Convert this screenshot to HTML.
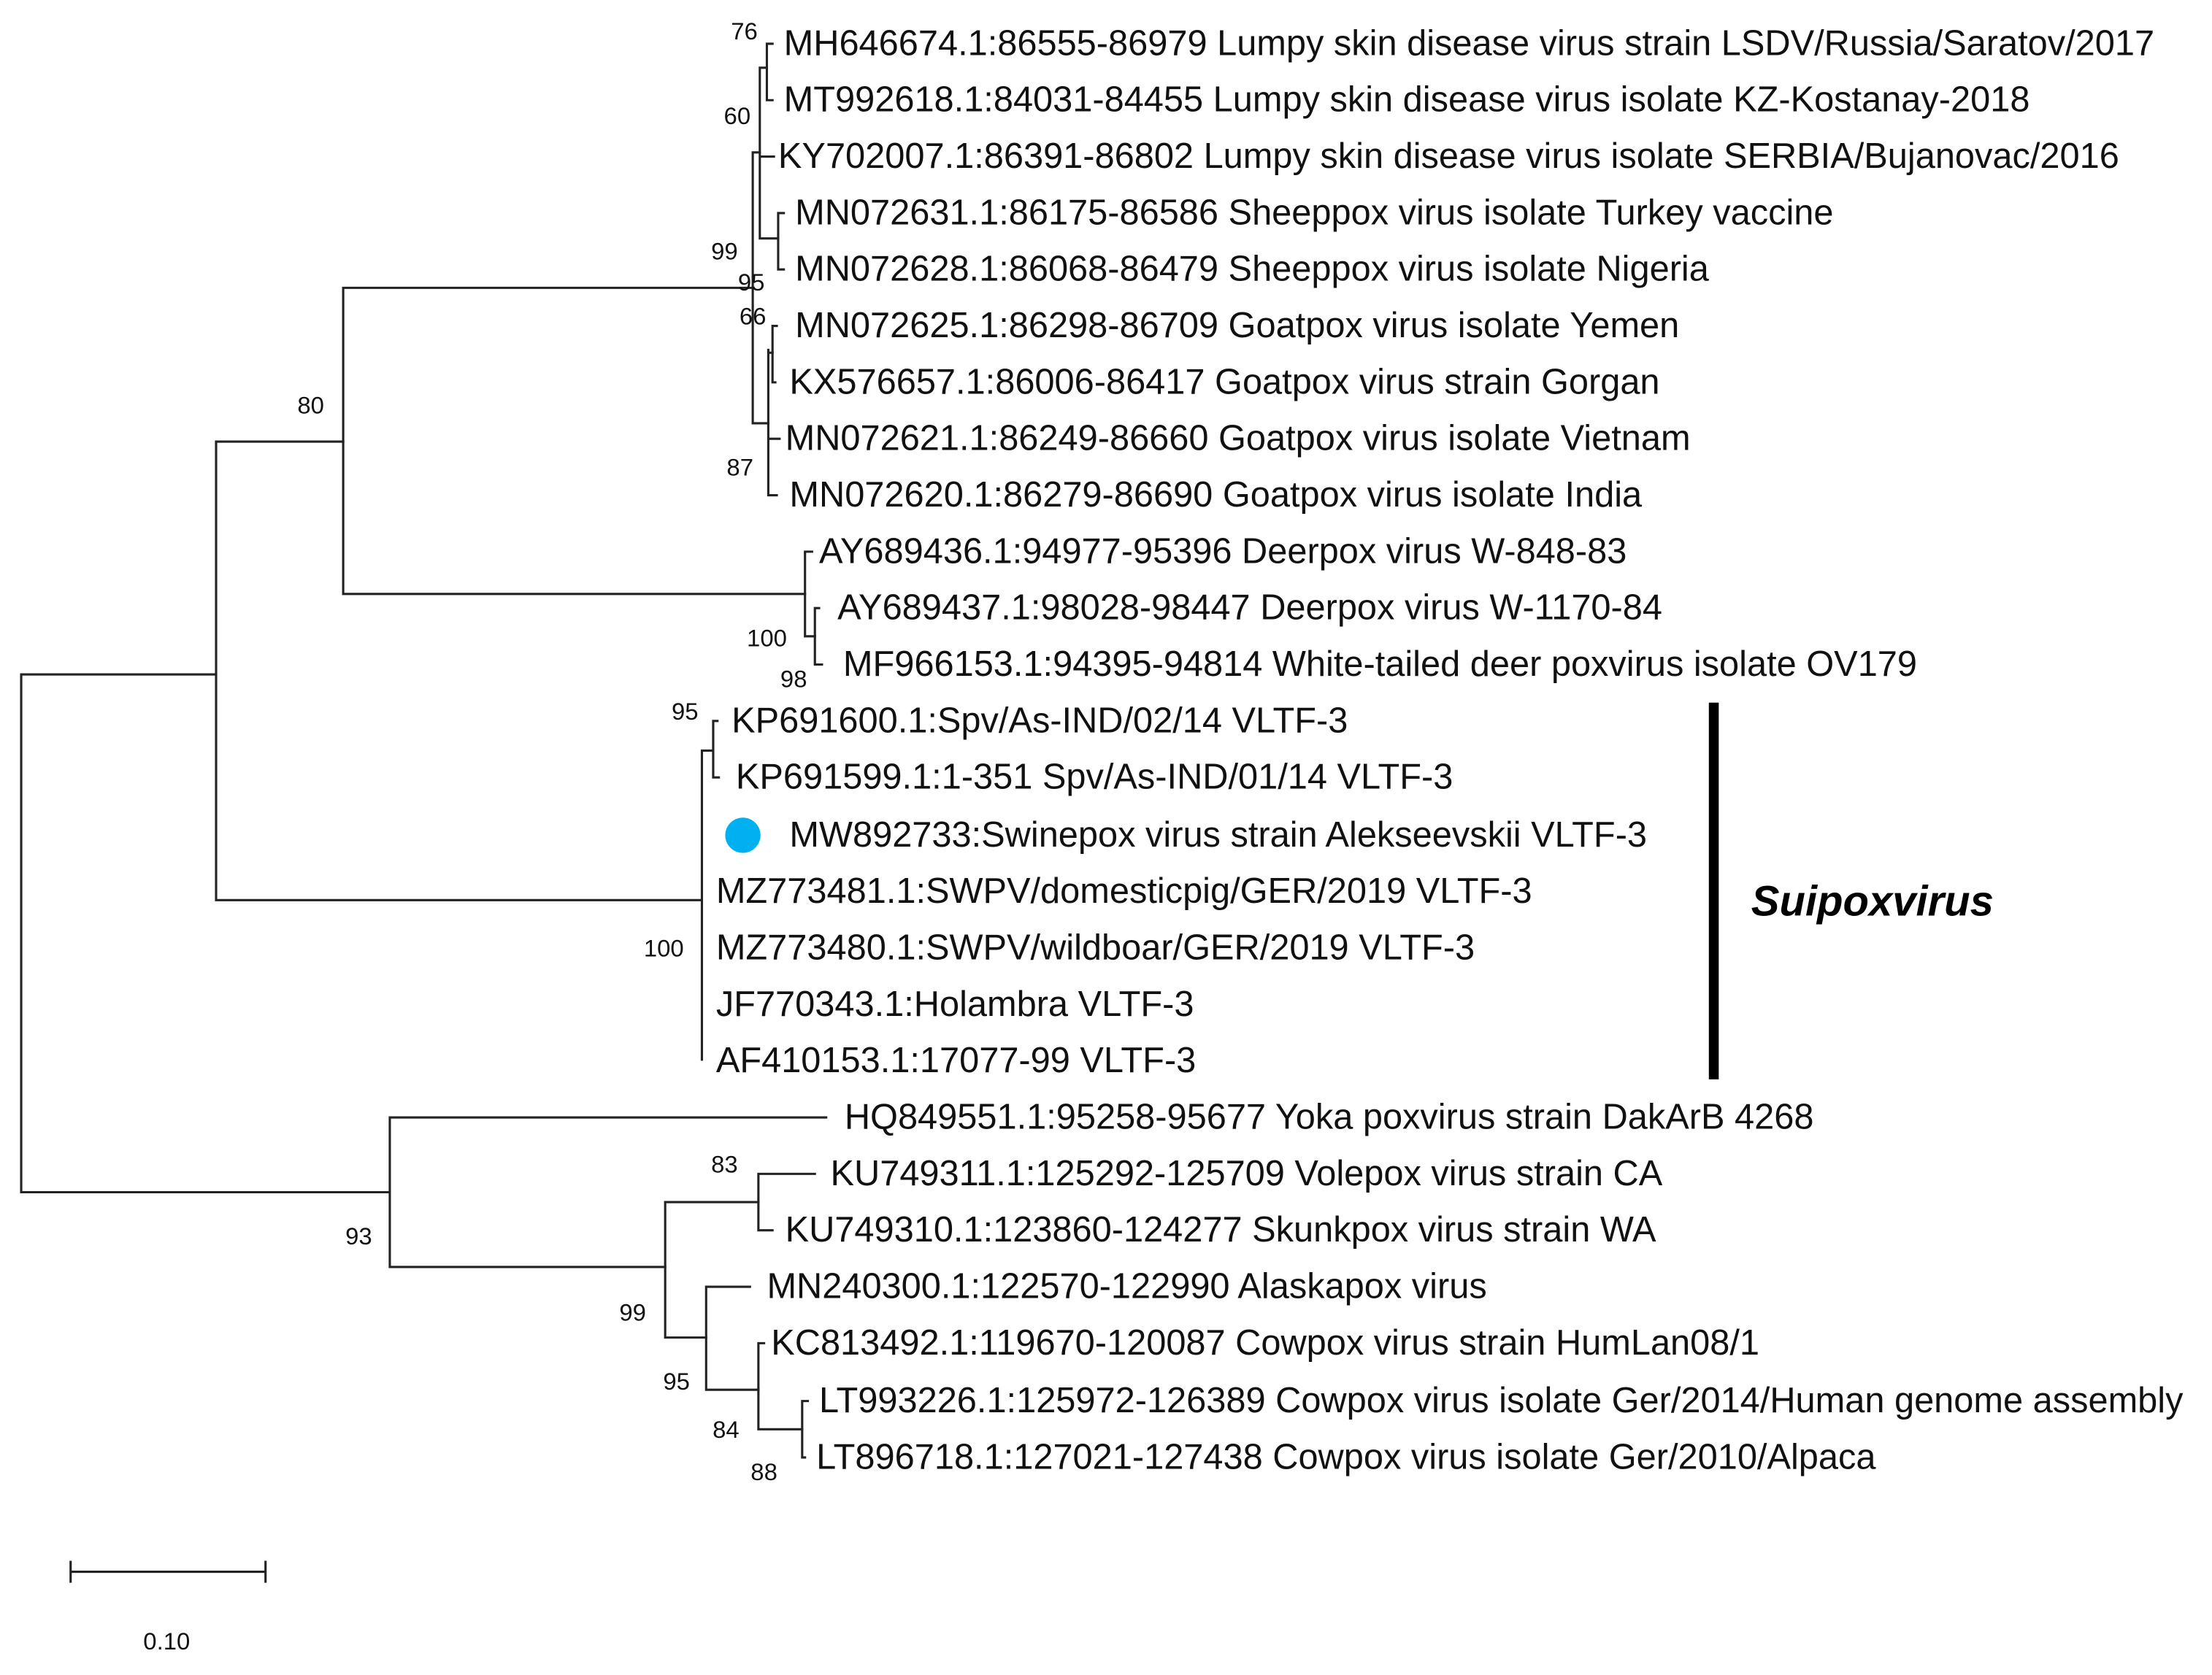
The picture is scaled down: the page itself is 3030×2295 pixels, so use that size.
<!DOCTYPE html>
<html><head><meta charset="utf-8"><style>
html,body{margin:0;padding:0;background:#fff;}
svg{display:block;}
text{font-family:"Liberation Sans",Arial,sans-serif;fill:#111;}
.t{font-size:25.2px;}
.s{font-size:17px;fill:#333;}
</style></head><body>
<svg width="3030" height="2295" viewBox="0 0 1560 1181.6" xmlns="http://www.w3.org/2000/svg">
<g transform="scale(0.996,0.9953)">
<g stroke="#222" stroke-width="1.6" fill="none" stroke-linecap="square">
<path d="M15 478V845M15 478H153M15 845H276"/>
<path d="M153 313V638M153 313H243M153 638H497"/>
<path d="M243 204V421M243 204H533M243 421H570"/>
<path d="M533 108V300M533 108H538M533 300H544"/>
<path d="M538 48V169M538 48H543M538 169H551M538 111H548"/>
<path d="M543 31V71M543 31H547M543 71H547"/>
<path d="M551 151V191M551 151H555M551 191H555"/>
<path d="M544 248V351M544 250H547M544 311H552M544 351H550"/>
<path d="M547 231V271M547 231H550M547 271H549"/>
<path d="M570 391V451M570 391H575M570 451H577"/>
<path d="M577 431V471M577 431H580M577 471H582"/>
<path d="M497 532V751M497 532H505"/>
<path d="M505 511V551M505 511H508M505 551H509"/>
<path d="M276 792V898M276 792H585M276 898H471"/>
<path d="M471 852V948M471 852H537M471 948H500"/>
<path d="M537 832V872M537 832H577M537 872H547"/>
<path d="M500 912V985M500 912H531M500 985H537"/>
<path d="M537 952V1013M537 952H541M537 1013H568"/>
<path d="M568 993V1033M568 993H572M568 1033H570"/>
<path d="M50 1114H188M50 1107V1121M188 1107V1121"/>
</g>
<rect x="1210" y="498" width="7" height="267" fill="#000"/>
<text x="1240" y="649" style="font-size:30px;font-weight:bold;font-style:italic;fill:#000">Suipoxvirus</text>
<circle cx="526" cy="592" r="12.5" fill="#00b0f0"/>
<g class="t">
<text x="555" y="39">MH646674.1:86555-86979 Lumpy skin disease virus strain LSDV/Russia/Saratov/2017</text>
<text x="555" y="79">MT992618.1:84031-84455 Lumpy skin disease virus isolate KZ-Kostanay-2018</text>
<text x="551" y="119">KY702007.1:86391-86802 Lumpy skin disease virus isolate SERBIA/Bujanovac/2016</text>
<text x="563" y="159">MN072631.1:86175-86586 Sheeppox virus isolate Turkey vaccine</text>
<text x="563" y="199">MN072628.1:86068-86479 Sheeppox virus isolate Nigeria</text>
<text x="563" y="239">MN072625.1:86298-86709 Goatpox virus isolate Yemen</text>
<text x="559" y="279">KX576657.1:86006-86417 Goatpox virus strain Gorgan</text>
<text x="556" y="319">MN072621.1:86249-86660 Goatpox virus isolate Vietnam</text>
<text x="559" y="359">MN072620.1:86279-86690 Goatpox virus isolate India</text>
<text x="580" y="399">AY689436.1:94977-95396 Deerpox virus W-848-83</text>
<text x="593" y="439">AY689437.1:98028-98447 Deerpox virus W-1170-84</text>
<text x="597" y="479">MF966153.1:94395-94814 White-tailed deer poxvirus isolate OV179</text>
<text x="518" y="519">KP691600.1:Spv/As-IND/02/14 VLTF-3</text>
<text x="521" y="559">KP691599.1:1-351 Spv/As-IND/01/14 VLTF-3</text>
<text x="559" y="600">MW892733:Swinepox virus strain Alekseevskii VLTF-3</text>
<text x="507" y="640">MZ773481.1:SWPV/domesticpig/GER/2019 VLTF-3</text>
<text x="507" y="680">MZ773480.1:SWPV/wildboar/GER/2019 VLTF-3</text>
<text x="507" y="720">JF770343.1:Holambra VLTF-3</text>
<text x="507" y="760">AF410153.1:17077-99 VLTF-3</text>
<text x="598" y="800">HQ849551.1:95258-95677 Yoka poxvirus strain DakArB 4268</text>
<text x="588" y="840">KU749311.1:125292-125709 Volepox virus strain CA</text>
<text x="556" y="880">KU749310.1:123860-124277 Skunkpox virus strain WA</text>
<text x="543" y="920">MN240300.1:122570-122990 Alaskapox virus</text>
<text x="546" y="960">KC813492.1:119670-120087 Cowpox virus strain HumLan08/1</text>
<text x="580" y="1001">LT993226.1:125972-126389 Cowpox virus isolate Ger/2014/Human genome assembly</text>
<text x="578" y="1041">LT896718.1:127021-127438 Cowpox virus isolate Ger/2010/Alpaca</text>
</g>
<g class="s" text-anchor="middle">
<text x="527" y="28">76</text>
<text x="522" y="88">60</text>
<text x="513" y="184">99</text>
<text x="532" y="206">95</text>
<text x="533" y="230">66</text>
<text x="524" y="337">87</text>
<text x="220" y="293">80</text>
<text x="543" y="458">100</text>
<text x="562" y="487">98</text>
<text x="485" y="510">95</text>
<text x="470" y="678">100</text>
<text x="254" y="882">93</text>
<text x="513" y="831">83</text>
<text x="448" y="936">99</text>
<text x="479" y="985">95</text>
<text x="514" y="1019">84</text>
<text x="541" y="1049">88</text>
<text x="118" y="1169">0.10</text>
</g>
</g>
</svg>
</body></html>
